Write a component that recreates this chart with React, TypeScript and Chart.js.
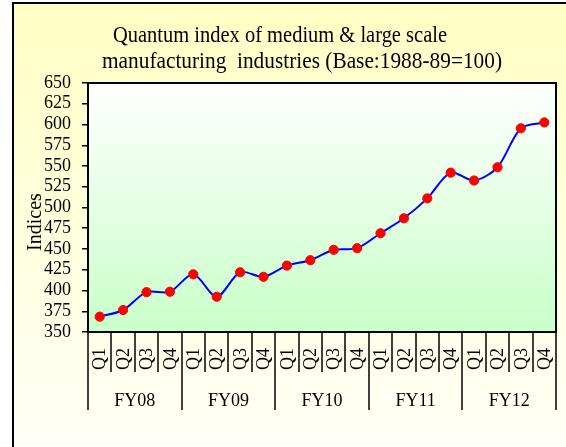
import React, { useEffect, useRef } from "react";
import { Chart, registerables } from "chart.js";

Chart.register(...registerables);

const quarterLabels = ["Q1", "Q2", "Q3", "Q4"];
const fiscalYears = ["FY08", "FY09", "FY10", "FY11", "FY12"];
const categories = fiscalYears.flatMap((fy) => quarterLabels.map((q) => `${fy} ${q}`));
const indices = [
  368.5, 376.5, 398, 398.5,
  419.5, 392.5, 422, 416.5,
  430, 436.5, 449, 451,
  469, 487, 511, 542,
  532.5, 548.5, 595.5, 602.5,
];
const yTicks = { min: 350, max: 650, step: 25 };
const titleLines = [
  "Quantum index of medium & large scale",
  "manufacturing  industries (Base:1988-89=100)",
];
const yAxisTitle = "Indices";

const SERIF = "'Liberation Serif', 'Times New Roman', serif";

// title line layout: [centerX, baselineY, targetWidth]
const titleLayout = [
  [280, 41.5, 334],
  [302, 68, 400],
];

const decorPlugin = {
  id: "decor",
  beforeDraw(chart: any) {
    const { ctx, width, height, chartArea: a } = chart;
    ctx.save();
    const g = ctx.createLinearGradient(0, 3, 0, height + 30);
    g.addColorStop(0, "#FFFFC4");
    g.addColorStop(1, "#FFFFFA");
    ctx.fillStyle = g;
    ctx.fillRect(13, 3, width, height);
    ctx.strokeStyle = "#000";
    ctx.lineWidth = 2;
    ctx.strokeRect(13, 3, width + 10, height + 10);
    const pg = ctx.createLinearGradient(0, a.top, 0, a.bottom);
    pg.addColorStop(0, "#FFFFFF");
    pg.addColorStop(1, "#C8FFC8");
    ctx.fillStyle = pg;
    ctx.fillRect(a.left, a.top, a.right - a.left, a.bottom - a.top);
    ctx.restore();
  },
  afterDraw(chart: any) {
    const { ctx, chartArea: a } = chart;
    const xs = chart.scales.x;
    const n = categories.length;
    const half = (xs.getPixelForValue(1) - xs.getPixelForValue(0)) / 2;
    ctx.save();
    ctx.strokeStyle = "#000";
    ctx.lineWidth = 2;
    ctx.strokeRect(a.left, a.top, a.right - a.left, a.bottom - a.top);

    ctx.lineWidth = 1.5;
    for (let i = 0; i <= n; i++) {
      const x = i < n ? xs.getPixelForValue(i) - half : xs.getPixelForValue(n - 1) + half;
      const len = i % 4 === 0 ? 78 : 40;
      ctx.beginPath();
      ctx.moveTo(Math.round(x), a.bottom);
      ctx.lineTo(Math.round(x), a.bottom + len);
      ctx.stroke();
    }

    ctx.fillStyle = "#000";
    ctx.font = `18px ${SERIF}`;
    ctx.textAlign = "left";
    ctx.textBaseline = "middle";
    for (let i = 0; i < n; i++) {
      const x = xs.getPixelForValue(i);
      ctx.save();
      ctx.translate(x + 1, a.bottom + 38);
      ctx.rotate(-Math.PI / 2);
      ctx.fillText(quarterLabels[i % 4], 0, 0);
      ctx.restore();
    }

    ctx.textAlign = "center";
    ctx.textBaseline = "alphabetic";
    fiscalYears.forEach((fy, gi) => {
      const x0 = xs.getPixelForValue(gi * 4) - half;
      const x1 = xs.getPixelForValue(gi * 4 + 3) + half;
      ctx.fillText(fy, (x0 + x1) / 2, a.bottom + 74);
    });

    ctx.font = `23px ${SERIF}`;
    titleLines.forEach((line, li) => {
      const [cx, by, tw] = titleLayout[li];
      const w = ctx.measureText(line).width;
      ctx.save();
      ctx.translate(cx, by);
      ctx.scale(tw / w, 1);
      ctx.fillText(line, 0, 0);
      ctx.restore();
    });

    ctx.font = `20px ${SERIF}`;
    ctx.save();
    ctx.translate(40.5, 222);
    ctx.rotate(-Math.PI / 2);
    ctx.textAlign = "center";
    ctx.textBaseline = "alphabetic";
    ctx.fillText(yAxisTitle, 0, 0);
    ctx.restore();

    ctx.restore();
  },
};

export default function App() {
  const ref = useRef<HTMLCanvasElement | null>(null);
  useEffect(() => {
    if (!ref.current) return;
    const chart = new Chart(ref.current, {
      type: "line",
      data: {
        labels: categories,
        datasets: [
          {
            data: indices,
            borderColor: "#0000FF",
            borderWidth: 2,
            tension: 0.3,
            pointRadius: 4.6,
            pointBackgroundColor: "#FF0000",
            pointBorderColor: "#FF0000",
            pointBorderWidth: 1,
            fill: false,
          },
        ],
      },
      options: {
        responsive: false,
        animation: false,
        events: [],
        layout: { padding: { top: 83, left: 13, right: 10, bottom: 37 } },
        plugins: { legend: { display: false }, title: { display: false }, tooltip: { enabled: false } },
        scales: {
          x: {
            type: "category",
            offset: true,
            grid: { display: false },
            border: { display: false },
            ticks: { display: false },
            afterFit: (s: any) => {
              s.height = 78;
            },
          },
          y: {
            min: yTicks.min,
            max: yTicks.max,
            ticks: {
              stepSize: yTicks.step,
              autoSkip: false,
              color: "#000",
              padding: 11,
              font: { family: SERIF, size: 18 },
            },
            grid: { drawOnChartArea: false, drawTicks: true, tickLength: 6, color: "#000", lineWidth: 1.5 },
            border: { display: false },
            afterFit: (s: any) => {
              s.width = 75;
            },
          },
        },
      },
      plugins: [decorPlugin],
    });
    return () => chart.destroy();
  }, []);
  return (
    <div style={{ position: "absolute", left: 0, top: 0, width: 566, height: 447 }}>
      <canvas ref={ref} width={566} height={447} style={{ display: "block" }} />
    </div>
  );
}
